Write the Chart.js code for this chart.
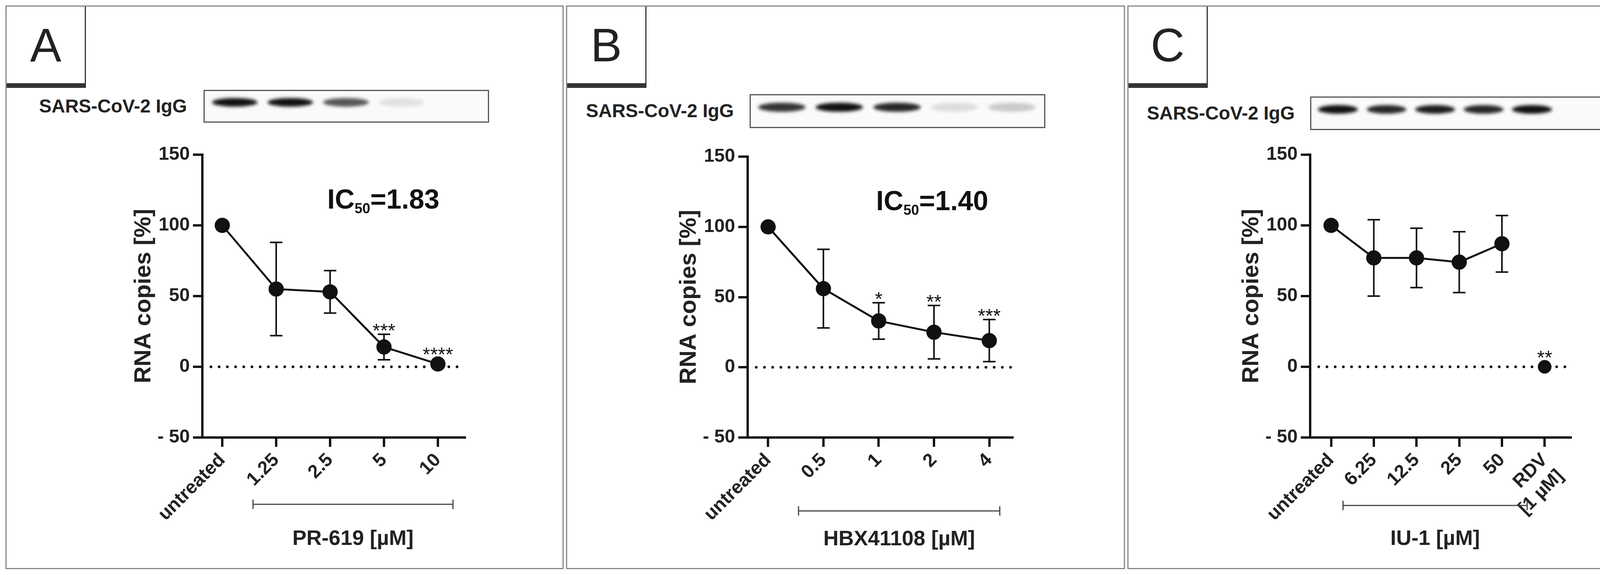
<!DOCTYPE html>
<html>
<head>
<meta charset="utf-8">
<script src="https://cdn.jsdelivr.net/npm/chart.js@4.4.0/dist/chart.umd.min.js"></script>
<style>
  body { margin: 0; width: 4394px; height: 1472px; background: #fff; position: relative; overflow: hidden; font-family: "Liberation Sans", Arial, sans-serif; }
  .panel { position: absolute; top: 14px; height: 1443px; border: 3px solid #888; box-sizing: border-box; }
  .letter { position: absolute; left: 0; top: 0; width: 200px; height: 196px; border-right: 3px solid #333; border-bottom: 12px solid #333; font-size: 120px; line-height: 196px; text-align: center; color: #222; }
  .blotlabel { position: absolute; font-weight: bold; font-size: 48px; color: #222; }
  .blot { position: absolute; border: 3px solid #555; background: #fafafa; box-sizing: border-box; }
  .band { position: absolute; border-radius: 50%; background: #111; filter: blur(4px); }
  canvas { position: absolute; top: 0; }
</style>
</head>
<body>
<div id="root"></div>
<script>
// ---- data ----
const labelsA = ["untreated", "1.25", "2.5", "5", "10"];
const meanA = [100, 55, 53, 14, 2];
const errA = [0, 33, 15, 9, 0];
const starsA = ["", "", "", "***", "****"];

const labelsB = ["untreated", "0.5", "1", "2", "4"];
const meanB = [100, 56, 33, 25, 19];
const errB = [0, 28, 13, 19, 15];
const starsB = ["", "", "*", "**", "***"];

const labelsC = ["untreated", "6.25", "12.5", "25", "50", ["RDV", "[1 µM]"]];
const meanC = [100, 77, 77, 74, 87, null];
const rdvC = [null, null, null, null, null, 0];
const errC = [0, 27, 21, 21.5, 20, 0];
const starsC = ["", "", "", "", "", "**"];

const yTicks = [-50, 0, 50, 100, 150];
const bandsA = [1, 1, 0.7, 0.1, 0];
const bandsB = [0.85, 1, 0.9, 0.12, 0.2];
const bandsC = [1, 0.9, 0.95, 0.9, 1, 0];

const panels = [
  { letter: "A", left: 14, width: 1429, plotL: 518, plotR: 1190, top: 396, xmin: -0.37, xmax: 4.5,
    labels: labelsA, mean: meanA, err: errA, stars: starsA, extra: null, ic50: "1.83", icX: 1125,
    bracket: [0.57, 4.28, 1291], title: "PR-619 [µM]", titleY: 1380,
    blotLabel: [100, 272], blot: [521, 230, 731, 84], bands: bandsA, nLanes: 5 },
  { letter: "B", left: 1449, width: 1431, plotL: 1914, plotR: 2592, top: 401, xmin: -0.37, xmax: 4.42,
    labels: labelsB, mean: meanB, err: errB, stars: starsB, extra: null, ic50: "1.40", icX: 2530,
    bracket: [0.55, 4.19, 1308], title: "HBX41108 [µM]", titleY: 1381,
    blotLabel: [1500, 284], blot: [1919, 241, 757, 87], bands: bandsB, nLanes: 5 },
  { letter: "C", left: 2886, width: 1485, plotL: 3354, plotR: 4021, top: 396, xmin: -0.49, xmax: 5.61,
    labels: labelsC, mean: meanC, err: errC, stars: starsC, extra: rdvC, ic50: null,
    bracket: [0.28, 4.59, 1294], title: "IU-1 [µM]", titleY: 1380,
    blotLabel: [2936, 290], blot: [3354, 247, 765, 86], bands: bandsC, nLanes: 6 }
];

const root = document.getElementById("root");
const BOTTOM = 1120;
const FONT = "'Liberation Sans', Arial";

panels.forEach(p => {
  const box = document.createElement("div");
  box.className = "panel";
  box.style.left = p.left + "px";
  box.style.width = p.width + "px";
  box.innerHTML = '<div class="letter">' + p.letter + '</div>';
  root.appendChild(box);

  const bl = document.createElement("div");
  bl.className = "blotlabel";
  bl.style.left = p.blotLabel[0] + "px";
  bl.style.top = (p.blotLabel[1] - 28) + "px";
  bl.textContent = "SARS-CoV-2 IgG";
  root.appendChild(bl);

  const blot = document.createElement("div");
  blot.className = "blot";
  blot.style.left = p.blot[0] + "px";
  blot.style.top = p.blot[1] + "px";
  blot.style.width = p.blot[2] + "px";
  blot.style.height = p.blot[3] + "px";
  const laneW = (p.blot[2] - 20) / p.nLanes;
  p.bands.forEach((v, i) => {
    if (v <= 0) return;
    const b = document.createElement("div");
    b.className = "band";
    b.style.left = (10 + i * laneW + laneW * 0.06) + "px";
    b.style.width = (laneW * 0.82) + "px";
    b.style.top = (p.blot[3] * 0.22) + "px";
    b.style.height = (p.blot[3] * 0.26) + "px";
    b.style.opacity = v;
    blot.appendChild(b);
  });
  root.appendChild(blot);

  const cv = document.createElement("canvas");
  cv.style.left = p.left + "px";
  cv.width = p.width; cv.height = 1472;
  cv.style.width = p.width + "px"; cv.style.height = "1472px";
  root.appendChild(cv);

  const yAxisW = 190;
  const padL = p.plotL - p.left - yAxisW;
  const padR = p.left + p.width - p.plotR;
  const xAxisH = 240;

  const overlay = {
    id: "overlay",
    afterDatasetsDraw(chart) {
      const ctx = chart.ctx, xs = chart.scales.x, ys = chart.scales.y, a = chart.chartArea;
      ctx.save();
      // dotted zero line
      ctx.fillStyle = "#111";
      const y0 = ys.getPixelForValue(0);
      for (let x = a.left + 22; x < a.right; x += 21) {
        ctx.beginPath(); ctx.arc(x, y0, 3.5, 0, Math.PI * 2); ctx.fill();
      }
      // error bars
      ctx.strokeStyle = "#111"; ctx.lineWidth = 4;
      p.err.forEach((e, i) => {
        const m = p.mean[i] != null ? p.mean[i] : (p.extra ? p.extra[i] : null);
        if (!e || m == null) return;
        const x = xs.getPixelForValue(i);
        const t = ys.getPixelForValue(m + e), b = ys.getPixelForValue(m - e);
        ctx.beginPath();
        ctx.moveTo(x, t); ctx.lineTo(x, b);
        ctx.moveTo(x - 16, t); ctx.lineTo(x + 16, t);
        ctx.moveTo(x - 16, b); ctx.lineTo(x + 16, b);
        ctx.stroke();
      });
      // significance stars
      ctx.font = "50px " + FONT;
      ctx.textAlign = "center"; ctx.textBaseline = "alphabetic";
      p.stars.forEach((s, i) => {
        if (!s) return;
        const m = p.mean[i] != null ? p.mean[i] : p.extra[i];
        const top = m + (p.err[i] || 4);
        ctx.fillText(s, xs.getPixelForValue(i), ys.getPixelForValue(top) + 8);
      });
      // IC50
      if (p.ic50) {
        const y = ys.getPixelForValue(112);
        ctx.font = "bold 70px " + FONT;
        ctx.textAlign = "right";
        const rest = "=" + p.ic50;
        const wr = ctx.measureText(rest).width;
        ctx.fillText(rest, p.icX - p.left, y);
        ctx.font = "bold 36px " + FONT;
        const ws = ctx.measureText("50").width;
        ctx.fillText("50", p.icX - p.left - wr, y + 12);
        ctx.font = "bold 70px " + FONT;
        ctx.fillText("IC", p.icX - p.left - wr - ws, y);
      }
      // concentration bracket and title
      const bx1 = xs.getPixelForValue(p.bracket[0]), bx2 = xs.getPixelForValue(p.bracket[1]);
      const by = p.bracket[2];
      ctx.strokeStyle = "#444"; ctx.lineWidth = 3;
      ctx.beginPath();
      ctx.moveTo(bx1, by); ctx.lineTo(bx2, by);
      ctx.moveTo(bx1, by - 12); ctx.lineTo(bx1, by + 12);
      ctx.moveTo(bx2, by - 12); ctx.lineTo(bx2, by + 12);
      ctx.stroke();
      ctx.fillStyle = "#222";
      ctx.font = "bold 54px " + FONT;
      ctx.textAlign = "center"; ctx.textBaseline = "middle";
      ctx.fillText(p.title, (bx1 + bx2) / 2, p.titleY);
      ctx.restore();
    }
  };

  const datasets = [{
    data: p.mean.map((v, i) => ({ x: i, y: v })),
    borderColor: "#111", backgroundColor: "#111", borderWidth: 5,
    pointRadius: 17, pointHoverRadius: 17, spanGaps: false
  }];
  if (p.extra) {
    datasets.push({
      data: p.extra.map((v, i) => ({ x: i, y: v })),
      borderColor: "#111", backgroundColor: "#111", showLine: false,
      pointRadius: 17, pointHoverRadius: 17
    });
  }

  new Chart(cv.getContext("2d"), {
    type: "line",
    data: { datasets },
    options: {
      responsive: false, animation: false,
      layout: { padding: { left: padL, right: padR, top: p.top, bottom: 1472 - BOTTOM - xAxisH } },
      plugins: { legend: { display: false }, tooltip: { enabled: false } },
      scales: {
        x: {
          type: "linear", min: p.xmin, max: p.xmax,
          afterBuildTicks(s) { s.ticks = p.labels.map((_, i) => ({ value: i })); },
          afterFit(s) { s.height = xAxisH; },
          border: { color: "#111", width: 6 },
          grid: { drawOnChartArea: false, color: "#111", lineWidth: 6, tickLength: 24 },
          ticks: {
            autoSkip: false, minRotation: 45, maxRotation: 45, padding: 6,
            color: "#222", font: { size: 48, weight: "bold", family: FONT },
            callback: v => p.labels[v]
          }
        },
        y: {
          min: -50, max: 150,
          afterBuildTicks(s) { s.ticks = yTicks.map(v => ({ value: v })); },
          afterFit(s) { s.width = yAxisW; },
          border: { color: "#111", width: 6 },
          grid: { drawOnChartArea: false, color: "#111", lineWidth: 6, tickLength: 24 },
          ticks: {
            padding: 8, color: "#222",
            font: { size: 48, weight: "bold", family: FONT },
            callback: v => v < 0 ? "- " + Math.abs(v) : String(v)
          },
          title: {
            display: true, text: "RNA copies [%]", color: "#222", padding: 4,
            font: { size: 60, weight: "bold", family: FONT }
          }
        }
      }
    },
    plugins: [overlay]
  });
});
</script>
</body>
</html>
